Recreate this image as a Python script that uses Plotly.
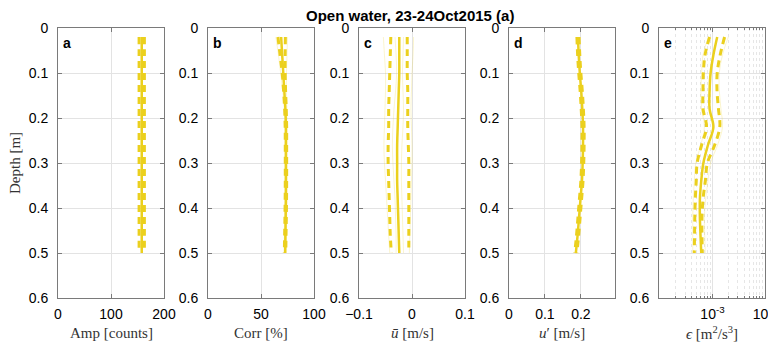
import plotly.graph_objects as go

# ---------------- data ----------------
depth = [0.02, 0.06, 0.10, 0.14, 0.18, 0.22, 0.26, 0.30, 0.34, 0.38, 0.42, 0.46, 0.50]

amp_mean = [158, 158, 158, 158, 158, 158, 158, 158, 158, 158, 158, 158, 158]
amp_lo = [153, 153, 153, 153, 153, 153, 153, 153, 153, 153, 153, 153, 153]
amp_hi = [163, 163, 163, 163, 163, 163, 163, 163, 163, 163, 163, 163, 163]

corr_mean = [69.0, 70.0, 71.0, 72.0, 73.0, 73.5, 73.5, 73.5, 73.5, 73.5, 73.3, 73.0, 72.8]
corr_lo = [66.0, 68.0, 70.0, 71.3, 72.3, 72.8, 72.9, 72.9, 72.9, 72.8, 72.6, 72.3, 72.0]
corr_hi = [73.0, 72.8, 72.8, 73.2, 73.8, 74.2, 74.2, 74.2, 74.2, 74.1, 73.9, 73.6, 73.4]
corr_faint = [
    [64.0, 66.5, 68.5, 70.5, 72.0, 72.5, 72.6, 72.6, 72.5, 72.4, 72.2, 72.0, 71.8],
    [75.0, 74.5, 74.0, 74.0, 74.4, 74.7, 74.7, 74.6, 74.6, 74.5, 74.3, 74.0, 73.8],
]

u_mean = [-0.024, -0.024, -0.024, -0.025, -0.026, -0.027, -0.028, -0.028, -0.028, -0.027, -0.026, -0.025, -0.024]
u_lo = [-0.040, -0.041, -0.042, -0.043, -0.044, -0.044, -0.045, -0.045, -0.044, -0.043, -0.042, -0.041, -0.039]
u_hi = [-0.009, -0.009, -0.009, -0.008, -0.008, -0.008, -0.007, -0.006, -0.006, -0.006, -0.006, -0.006, -0.006]
u_faint = [
    [-0.054, -0.052, -0.050, -0.050, -0.051, -0.052, -0.053, -0.052, -0.050, -0.048, -0.046, -0.044, -0.042],
    [0.003, 0.002, 0.000, -0.001, -0.002, -0.001, 0.000, 0.000, -0.001, -0.002, -0.003, -0.004, -0.005],
    [-0.032, -0.030, -0.029, -0.031, -0.034, -0.036, -0.037, -0.036, -0.034, -0.032, -0.031, -0.030, -0.030],
    [-0.016, -0.017, -0.018, -0.017, -0.016, -0.017, -0.019, -0.020, -0.020, -0.019, -0.018, -0.017, -0.016],
]

up_mean = [0.192, 0.194, 0.197, 0.201, 0.204, 0.206, 0.206, 0.205, 0.203, 0.199, 0.195, 0.191, 0.186]
up_lo = [0.189, 0.191, 0.194, 0.198, 0.201, 0.203, 0.203, 0.202, 0.200, 0.196, 0.192, 0.188, 0.183]
up_hi = [0.195, 0.197, 0.200, 0.204, 0.207, 0.209, 0.209, 0.208, 0.206, 0.202, 0.198, 0.194, 0.189]

eps_mean = [1.23e-3, 1.04e-3, 0.92e-3, 0.88e-3, 0.88e-3, 1.04e-3, 0.82e-3, 0.67e-3, 0.61e-3, 0.575e-3, 0.575e-3, 0.59e-3, 0.61e-3]
eps_lo = [0.88e-3, 0.72e-3, 0.67e-3, 0.66e-3, 0.66e-3, 0.77e-3, 0.62e-3, 0.51e-3, 0.49e-3, 0.47e-3, 0.46e-3, 0.455e-3, 0.45e-3]
eps_hi = [1.70e-3, 1.40e-3, 1.23e-3, 1.22e-3, 1.30e-3, 1.38e-3, 1.10e-3, 0.80e-3, 0.73e-3, 0.66e-3, 0.63e-3, 0.63e-3, 0.64e-3]
eps_faint = [
    [2.0e-3, 1.55e-3, 1.35e-3, 1.35e-3, 1.45e-3, 1.55e-3, 1.25e-3, 0.92e-3, 0.82e-3, 0.74e-3, 0.70e-3, 0.71e-3, 0.73e-3],
    [0.84e-3, 0.66e-3, 0.62e-3, 0.60e-3, 0.62e-3, 0.70e-3, 0.60e-3, 0.48e-3, 0.45e-3, 0.43e-3, 0.42e-3, 0.42e-3, 0.42e-3],
]

panel_letters = ["a", "b", "c", "d", "e"]
xlabels = [
    "Amp [counts]",
    "Corr [%]",
    "<i>ū</i> [m/s]",
    "<i>u</i>′ [m/s]",
    "<i>ϵ</i> [m<sup>2</sup>/s<sup>3</sup>]",
]
title_text = "Open water, 23-24Oct2015 (a)"
ylabel = "Depth [m]"
depth_ticks = [0, 0.1, 0.2, 0.3, 0.4, 0.5, 0.6]
eps_ticks = [1e-3, 1e-2]
eps_ticktext = ["10<sup>-3</sup>", "10<sup>-2</sup>"]

# ---------------- style ----------------
OFF = 8  # page body margin
W, H = 776 - OFF, 345 - OFF
COL = "#EBD01E"
FAINT = "rgba(235,208,30,0.22)"
AXC = "#7a7a7a"
GRID = "#e3e3e3"
SANS = "Liberation Sans, Arial, sans-serif"
SERIF = "Liberation Serif, DejaVu Serif, serif"

lefts = [58 - OFF, 208 - OFF, 359 - OFF, 509 - OFF, 659 - OFF]
pw = 106
top_px, bot_px = 28 - OFF, 298 - OFF


def px_x(v):
    return (v - OFF) / W


def px_y(v):
    return 1 - (v - OFF) / H


fig = go.Figure()

panels = [
    (amp_mean, amp_lo, amp_hi, []),
    (corr_mean, corr_lo, corr_hi, corr_faint),
    (u_mean, u_lo, u_hi, u_faint),
    (up_mean, up_lo, up_hi, []),
    (eps_mean, eps_lo, eps_hi, eps_faint),
]

for i, (m, lo, hi, faint) in enumerate(panels):
    xa = "x" if i == 0 else f"x{i+1}"
    ya = "y" if i == 0 else f"y{i+1}"
    for f in faint:
        fig.add_trace(go.Scatter(x=f, y=depth, mode="lines", xaxis=xa, yaxis=ya,
                                 line=dict(color=FAINT, width=1, shape="spline"),
                                 showlegend=False, hoverinfo="skip"))
    for s in (lo, hi):
        fig.add_trace(go.Scatter(x=s, y=depth, mode="lines", xaxis=xa, yaxis=ya,
                                 line=dict(color=COL, width=3, dash="7px,5px", shape="spline"),
                                 showlegend=False))
    fig.add_trace(go.Scatter(x=m, y=depth, mode="lines", xaxis=xa, yaxis=ya,
                             line=dict(color=COL, width=2.5, shape="spline"),
                             showlegend=False))

common_y = dict(range=[0.6, 0], autorange=False, automargin=False, tickmode="array", tickvals=depth_ticks,
                showgrid=True, gridcolor=GRID, gridwidth=1, zeroline=False,
                showline=True, linecolor=AXC, linewidth=1, mirror="allticks",
                ticks="inside", ticklen=4, tickcolor=AXC,
                tickfont=dict(family=SANS, size=14, color="black"),
                ticklabelstandoff=6,
                domain=[1 - bot_px / H, 1 - top_px / H])
common_x = dict(showgrid=True, gridcolor=GRID, gridwidth=1, zeroline=False, automargin=False,
                showline=True, linecolor=AXC, linewidth=1, mirror="allticks",
                ticks="inside", ticklen=4, tickcolor=AXC,
                tickfont=dict(family=SANS, size=14, color="black"),
                ticklabelstandoff=3, ticklabeloverflow="allow")

xranges = [[0, 200], [0, 100], [-0.1, 0.1], [0, 0.295], None]
xticks = [[0, 100, 200], [0, 50, 100], [-0.1, 0, 0.1], [0, 0.1, 0.2], eps_ticks]

minor_vals = [2e-4, 3e-4, 4e-4, 5e-4, 6e-4, 7e-4, 8e-4, 9e-4,
              2e-3, 3e-3, 4e-3, 5e-3, 6e-3, 7e-3, 8e-3, 9e-3]

layout = {}
for i in range(5):
    xk = "xaxis" if i == 0 else f"xaxis{i+1}"
    yk = "yaxis" if i == 0 else f"yaxis{i+1}"
    xd = dict(common_x)
    xd["domain"] = [lefts[i] / W, (lefts[i] + pw) / W]
    xd["anchor"] = "y" if i == 0 else f"y{i+1}"
    xd["tickmode"] = "array"
    xd["tickvals"] = xticks[i]
    if i == 4:
        xd["type"] = "log"
        xd["range"] = [-4.02, -1.999]
        xd["ticktext"] = eps_ticktext
        xd["minor"] = dict(tickmode="array", tickvals=minor_vals, showgrid=True,
                           gridcolor="#e6e6e6", griddash="dot", ticks="inside",
                           ticklen=2, tickcolor=AXC)
    else:
        xd["range"] = xranges[i]
    layout[xk] = xd
    yd = dict(common_y)
    yd["anchor"] = "x" if i == 0 else f"x{i+1}"
    layout[yk] = yd

fig.update_layout(**layout)

annotations = []
for i in range(5):
    cx = (lefts[i] + pw / 2) / W
    annotations.append(dict(text=xlabels[i], x=cx, y=px_y(333), xref="paper", yref="paper",
                            showarrow=False, xanchor="center", yanchor="middle",
                            font=dict(family=SERIF, size=15, color="#333")))
    annotations.append(dict(text=f"<b>{panel_letters[i]}</b>", x=(lefts[i] + 3) / W, y=px_y(43),
                            xref="paper", yref="paper", showarrow=False,
                            xanchor="left", yanchor="middle",
                            font=dict(family=SANS, size=14, color="black")))
annotations.append(dict(text=f"<b>{title_text}</b>", x=px_x(410), y=px_y(15), xref="paper", yref="paper",
                        showarrow=False, xanchor="center", yanchor="middle",
                        font=dict(family=SANS, size=15, color="black")))
annotations.append(dict(text=ylabel, x=px_x(15), y=px_y(163), xref="paper", yref="paper",
                        showarrow=False, textangle=-90, xanchor="center", yanchor="middle",
                        font=dict(family=SERIF, size=15, color="#333")))

fig.update_layout(width=W, height=H, margin=dict(l=0, r=0, t=0, b=0),
                  paper_bgcolor="white", plot_bgcolor="white",
                  annotations=annotations, showlegend=False)

fig.write_html("out.html")
